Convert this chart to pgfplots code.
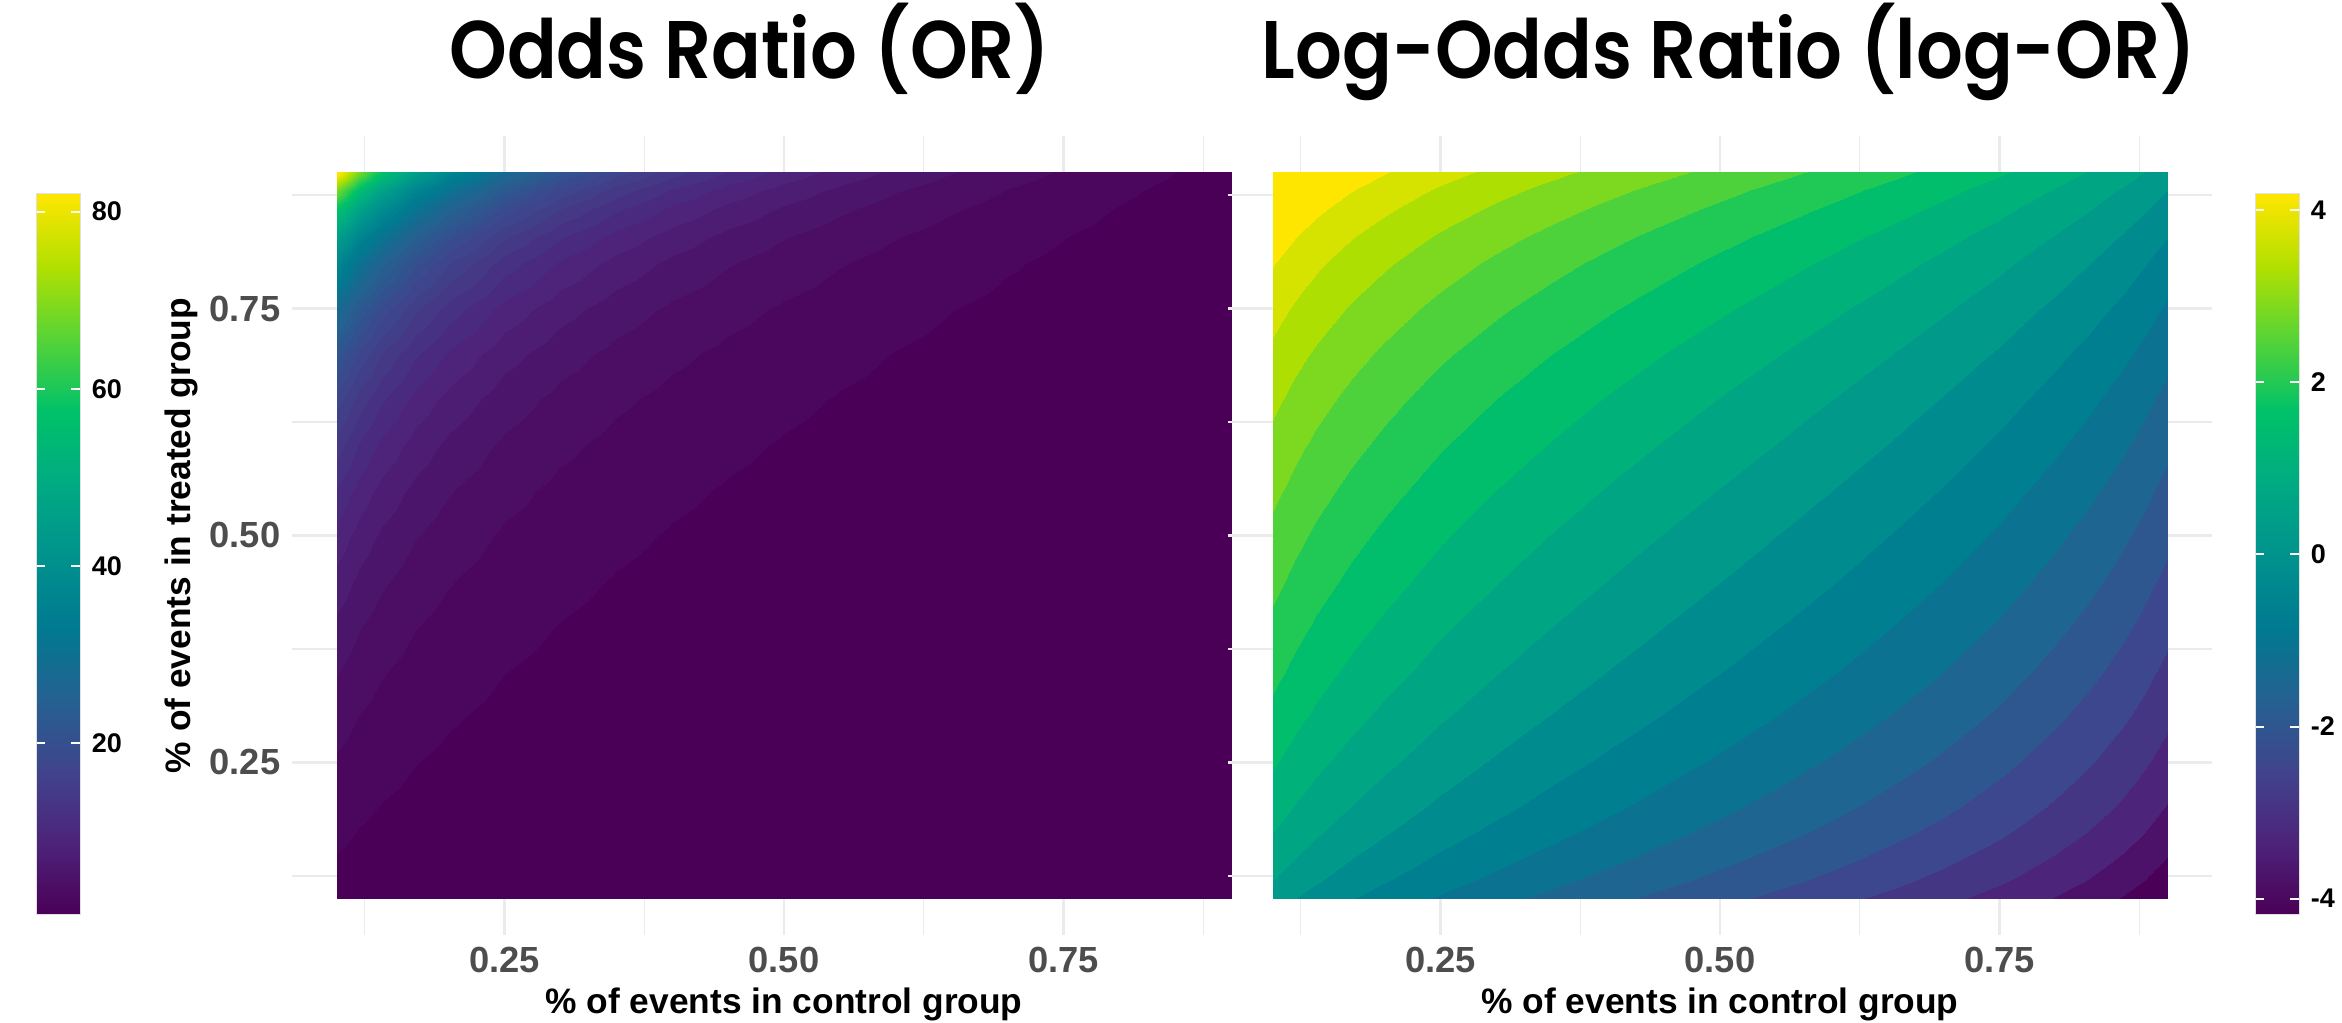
\documentclass[border=0pt]{standalone}
\usepackage{pgfplots}
\pgfplotsset{compat=1.18}
\usepackage{pgfplotstable}
\usepackage{graphicx}
\usepackage{fontspec}
\setmainfont{Liberation Sans}
\newfontfamily\titlefont{Poppins SemiBold}[FakeStretch=0.9]
\definecolor{ticklab}{RGB}{77,77,77}
\definecolor{gridc}{RGB}{235,235,235}
\pgfplotsset{
  colormap={vp}{rgb255=(75,0,87) rgb255=(77,35,122) rgb255=(64,68,140) rgb255=(36,97,145) rgb255=(0,122,145) rgb255=(0,147,141) rgb255=(0,171,130) rgb255=(0,194,104) rgb255=(87,212,54) rgb255=(178,224,0) rgb255=(255,230,0)},
  colormap={Xor}{[1pt] rgb255(0pt)=(75,0,87) rgb255(49pt)=(77,35,122) rgb255(98pt)=(64,68,140) rgb255(147pt)=(36,97,145) rgb255(196pt)=(0,122,145) rgb255(245pt)=(0,147,141) rgb255(294pt)=(0,171,130) rgb255(343pt)=(0,194,104) rgb255(392pt)=(87,212,54) rgb255(441pt)=(178,224,0) rgb255(490pt)=(255,230,0) rgb255(500pt)=(255,230,0)},
  colormap={ORcm}{samples of colormap=(51 of Xor)},
  colormap={Xlor}{[1pt] rgb255(0pt)=(75,0,87) rgb255(19pt)=(77,35,122) rgb255(38pt)=(64,68,140) rgb255(57pt)=(36,97,145) rgb255(76pt)=(0,122,145) rgb255(95pt)=(0,147,141) rgb255(114pt)=(0,171,130) rgb255(133pt)=(0,194,104) rgb255(152pt)=(87,212,54) rgb255(171pt)=(178,224,0) rgb255(190pt)=(255,230,0) rgb255(200pt)=(255,230,0)},
  colormap={LORcm}{samples of colormap=(21 of Xlor)},
}
\pgfplotstableread{
x y lor or
0.10 0.10 0 1
0.12 0.10 -0.205 0.8148
0.14 0.10 -0.382 0.6825
0.17 0.10 -0.612 0.5425
0.20 0.10 -0.811 0.4444
0.25 0.10 -1.099 0.3333
0.30 0.10 -1.350 0.2593
0.35 0.10 -1.578 0.2063
0.40 0.10 -1.792 0.1667
0.45 0.10 -1.997 0.1358
0.50 0.10 -2.197 0.1111
0.55 0.10 -2.398 0.0909
0.60 0.10 -2.603 0.0741
0.65 0.10 -2.816 0.0598
0.70 0.10 -3.045 0.0476
0.75 0.10 -3.296 0.0370
0.80 0.10 -3.584 0.0278
0.83 0.10 -3.783 0.0228
0.86 0.10 -4.013 0.0181
0.88 0.10 -4.190 0.0152
0.90 0.10 -4.394 0.0123
0.10 0.12 0.205 1.227
0.12 0.12 0 1
0.14 0.12 -0.177 0.8377
0.17 0.12 -0.407 0.6658
0.20 0.12 -0.606 0.5455
0.25 0.12 -0.894 0.4091
0.30 0.12 -1.145 0.3182
0.35 0.12 -1.373 0.2532
0.40 0.12 -1.587 0.2045
0.45 0.12 -1.792 0.1667
0.50 0.12 -1.992 0.1364
0.55 0.12 -2.193 0.1116
0.60 0.12 -2.398 0.0909
0.65 0.12 -2.611 0.0734
0.70 0.12 -2.840 0.0584
0.75 0.12 -3.091 0.0455
0.80 0.12 -3.379 0.0341
0.83 0.12 -3.578 0.0279
0.86 0.12 -3.808 0.0222
0.88 0.12 -3.985 0.0186
0.90 0.12 -4.190 0.0152
0.10 0.14 0.382 1.465
0.12 0.14 0.177 1.194
0.14 0.14 0 1
0.17 0.14 -0.230 0.7948
0.20 0.14 -0.429 0.6512
0.25 0.14 -0.717 0.4884
0.30 0.14 -0.968 0.3798
0.35 0.14 -1.196 0.3023
0.40 0.14 -1.410 0.2442
0.45 0.14 -1.615 0.1990
0.50 0.14 -1.815 0.1628
0.55 0.14 -2.016 0.1332
0.60 0.14 -2.221 0.1085
0.65 0.14 -2.434 0.0877
0.70 0.14 -2.663 0.0698
0.75 0.14 -2.914 0.0543
0.80 0.14 -3.202 0.0407
0.83 0.14 -3.401 0.0333
0.86 0.14 -3.631 0.0265
0.88 0.14 -3.808 0.0222
0.90 0.14 -4.013 0.0181
0.10 0.17 0.612 1.843
0.12 0.17 0.407 1.502
0.14 0.17 0.230 1.258
0.17 0.17 0 1
0.20 0.17 -0.199 0.8193
0.25 0.17 -0.487 0.6145
0.30 0.17 -0.738 0.4779
0.35 0.17 -0.967 0.3804
0.40 0.17 -1.180 0.3072
0.45 0.17 -1.385 0.2503
0.50 0.17 -1.586 0.2048
0.55 0.17 -1.786 0.1676
0.60 0.17 -1.991 0.1366
0.65 0.17 -2.205 0.1103
0.70 0.17 -2.433 0.0878
0.75 0.17 -2.684 0.0683
0.80 0.17 -2.972 0.0512
0.83 0.17 -3.171 0.0420
0.86 0.17 -3.401 0.0333
0.88 0.17 -3.578 0.0279
0.90 0.17 -3.783 0.0228
0.10 0.20 0.811 2.25
0.12 0.20 0.606 1.833
0.14 0.20 0.429 1.536
0.17 0.20 0.199 1.221
0.20 0.20 0 1
0.25 0.20 -0.288 0.75
0.30 0.20 -0.539 0.5833
0.35 0.20 -0.767 0.4643
0.40 0.20 -0.981 0.375
0.45 0.20 -1.186 0.3056
0.50 0.20 -1.386 0.25
0.55 0.20 -1.587 0.2045
0.60 0.20 -1.792 0.1667
0.65 0.20 -2.005 0.1346
0.70 0.20 -2.234 0.1071
0.75 0.20 -2.485 0.0833
0.80 0.20 -2.773 0.0625
0.83 0.20 -2.972 0.0512
0.86 0.20 -3.202 0.0407
0.88 0.20 -3.379 0.0341
0.90 0.20 -3.584 0.0278
0.10 0.25 1.099 3
0.12 0.25 0.894 2.444
0.14 0.25 0.717 2.048
0.17 0.25 0.487 1.627
0.20 0.25 0.288 1.333
0.25 0.25 0 1
0.30 0.25 -0.251 0.7778
0.35 0.25 -0.480 0.6190
0.40 0.25 -0.693 0.5
0.45 0.25 -0.898 0.4074
0.50 0.25 -1.099 0.3333
0.55 0.25 -1.299 0.2727
0.60 0.25 -1.504 0.2222
0.65 0.25 -1.718 0.1795
0.70 0.25 -1.946 0.1429
0.75 0.25 -2.197 0.1111
0.80 0.25 -2.485 0.0833
0.83 0.25 -2.684 0.0683
0.86 0.25 -2.914 0.0543
0.88 0.25 -3.091 0.0455
0.90 0.25 -3.296 0.0370
0.10 0.30 1.350 3.857
0.12 0.30 1.145 3.143
0.14 0.30 0.968 2.633
0.17 0.30 0.738 2.092
0.20 0.30 0.539 1.714
0.25 0.30 0.251 1.286
0.30 0.30 0 1
0.35 0.30 -0.228 0.7959
0.40 0.30 -0.442 0.6429
0.45 0.30 -0.647 0.5238
0.50 0.30 -0.847 0.4286
0.55 0.30 -1.048 0.3506
0.60 0.30 -1.253 0.2857
0.65 0.30 -1.466 0.2308
0.70 0.30 -1.695 0.1837
0.75 0.30 -1.946 0.1429
0.80 0.30 -2.234 0.1071
0.83 0.30 -2.433 0.0878
0.86 0.30 -2.663 0.0698
0.88 0.30 -2.840 0.0584
0.90 0.30 -3.045 0.0476
0.10 0.35 1.578 4.846
0.12 0.35 1.373 3.949
0.14 0.35 1.196 3.308
0.17 0.35 0.967 2.629
0.20 0.35 0.767 2.154
0.25 0.35 0.480 1.615
0.30 0.35 0.228 1.256
0.35 0.35 0 1
0.40 0.35 -0.214 0.8077
0.45 0.35 -0.418 0.6581
0.50 0.35 -0.619 0.5385
0.55 0.35 -0.820 0.4406
0.60 0.35 -1.025 0.3590
0.65 0.35 -1.238 0.2899
0.70 0.35 -1.466 0.2308
0.75 0.35 -1.718 0.1795
0.80 0.35 -2.005 0.1346
0.83 0.35 -2.205 0.1103
0.86 0.35 -2.434 0.0877
0.88 0.35 -2.611 0.0734
0.90 0.35 -2.816 0.0598
0.10 0.40 1.792 6
0.12 0.40 1.587 4.889
0.14 0.40 1.410 4.095
0.17 0.40 1.180 3.255
0.20 0.40 0.981 2.667
0.25 0.40 0.693 2
0.30 0.40 0.442 1.556
0.35 0.40 0.214 1.238
0.40 0.40 0 1
0.45 0.40 -0.205 0.8148
0.50 0.40 -0.405 0.6667
0.55 0.40 -0.606 0.5455
0.60 0.40 -0.811 0.4444
0.65 0.40 -1.025 0.3590
0.70 0.40 -1.253 0.2857
0.75 0.40 -1.504 0.2222
0.80 0.40 -1.792 0.1667
0.83 0.40 -1.991 0.1366
0.86 0.40 -2.221 0.1085
0.88 0.40 -2.398 0.0909
0.90 0.40 -2.603 0.0741
0.10 0.45 1.997 7.364
0.12 0.45 1.792 6
0.14 0.45 1.615 5.026
0.17 0.45 1.385 3.995
0.20 0.45 1.186 3.273
0.25 0.45 0.898 2.455
0.30 0.45 0.647 1.909
0.35 0.45 0.418 1.519
0.40 0.45 0.205 1.227
0.45 0.45 0 1
0.50 0.45 -0.201 0.8182
0.55 0.45 -0.401 0.6694
0.60 0.45 -0.606 0.5455
0.65 0.45 -0.820 0.4406
0.70 0.45 -1.048 0.3506
0.75 0.45 -1.299 0.2727
0.80 0.45 -1.587 0.2045
0.83 0.45 -1.786 0.1676
0.86 0.45 -2.016 0.1332
0.88 0.45 -2.193 0.1116
0.90 0.45 -2.398 0.0909
0.10 0.50 2.197 9
0.12 0.50 1.992 7.333
0.14 0.50 1.815 6.143
0.17 0.50 1.586 4.882
0.20 0.50 1.386 4
0.25 0.50 1.099 3
0.30 0.50 0.847 2.333
0.35 0.50 0.619 1.857
0.40 0.50 0.405 1.5
0.45 0.50 0.201 1.222
0.50 0.50 0 1
0.55 0.50 -0.201 0.8182
0.60 0.50 -0.405 0.6667
0.65 0.50 -0.619 0.5385
0.70 0.50 -0.847 0.4286
0.75 0.50 -1.099 0.3333
0.80 0.50 -1.386 0.25
0.83 0.50 -1.586 0.2048
0.86 0.50 -1.815 0.1628
0.88 0.50 -1.992 0.1364
0.90 0.50 -2.197 0.1111
0.10 0.55 2.398 11
0.12 0.55 2.193 8.963
0.14 0.55 2.016 7.508
0.17 0.55 1.786 5.967
0.20 0.55 1.587 4.889
0.25 0.55 1.299 3.667
0.30 0.55 1.048 2.852
0.35 0.55 0.820 2.270
0.40 0.55 0.606 1.833
0.45 0.55 0.401 1.494
0.50 0.55 0.201 1.222
0.55 0.55 0 1
0.60 0.55 -0.205 0.8148
0.65 0.55 -0.418 0.6581
0.70 0.55 -0.647 0.5238
0.75 0.55 -0.898 0.4074
0.80 0.55 -1.186 0.3056
0.83 0.55 -1.385 0.2503
0.86 0.55 -1.615 0.1990
0.88 0.55 -1.792 0.1667
0.90 0.55 -1.997 0.1358
0.10 0.60 2.603 13.5
0.12 0.60 2.398 11
0.14 0.60 2.221 9.214
0.17 0.60 1.991 7.324
0.20 0.60 1.792 6
0.25 0.60 1.504 4.5
0.30 0.60 1.253 3.5
0.35 0.60 1.025 2.786
0.40 0.60 0.811 2.25
0.45 0.60 0.606 1.833
0.50 0.60 0.405 1.5
0.55 0.60 0.205 1.227
0.60 0.60 0 1
0.65 0.60 -0.214 0.8077
0.70 0.60 -0.442 0.6429
0.75 0.60 -0.693 0.5
0.80 0.60 -0.981 0.375
0.83 0.60 -1.180 0.3072
0.86 0.60 -1.410 0.2442
0.88 0.60 -1.587 0.2045
0.90 0.60 -1.792 0.1667
0.10 0.65 2.816 16.71
0.12 0.65 2.611 13.62
0.14 0.65 2.434 11.41
0.17 0.65 2.205 9.067
0.20 0.65 2.005 7.429
0.25 0.65 1.718 5.571
0.30 0.65 1.466 4.333
0.35 0.65 1.238 3.449
0.40 0.65 1.025 2.786
0.45 0.65 0.820 2.270
0.50 0.65 0.619 1.857
0.55 0.65 0.418 1.519
0.60 0.65 0.214 1.238
0.65 0.65 0 1
0.70 0.65 -0.228 0.7959
0.75 0.65 -0.480 0.6190
0.80 0.65 -0.767 0.4643
0.83 0.65 -0.967 0.3804
0.86 0.65 -1.196 0.3023
0.88 0.65 -1.373 0.2532
0.90 0.65 -1.578 0.2063
0.10 0.70 3.045 21
0.12 0.70 2.840 17.11
0.14 0.70 2.663 14.33
0.17 0.70 2.433 11.39
0.20 0.70 2.234 9.333
0.25 0.70 1.946 7
0.30 0.70 1.695 5.444
0.35 0.70 1.466 4.333
0.40 0.70 1.253 3.5
0.45 0.70 1.048 2.852
0.50 0.70 0.847 2.333
0.55 0.70 0.647 1.909
0.60 0.70 0.442 1.556
0.65 0.70 0.228 1.256
0.70 0.70 0 1
0.75 0.70 -0.251 0.7778
0.80 0.70 -0.539 0.5833
0.83 0.70 -0.738 0.4779
0.86 0.70 -0.968 0.3798
0.88 0.70 -1.145 0.3182
0.90 0.70 -1.350 0.2593
0.10 0.75 3.296 27
0.12 0.75 3.091 22
0.14 0.75 2.914 18.43
0.17 0.75 2.684 14.65
0.20 0.75 2.485 12
0.25 0.75 2.197 9
0.30 0.75 1.946 7
0.35 0.75 1.718 5.571
0.40 0.75 1.504 4.5
0.45 0.75 1.299 3.667
0.50 0.75 1.099 3
0.55 0.75 0.898 2.455
0.60 0.75 0.693 2
0.65 0.75 0.480 1.615
0.70 0.75 0.251 1.286
0.75 0.75 0 1
0.80 0.75 -0.288 0.75
0.83 0.75 -0.487 0.6145
0.86 0.75 -0.717 0.4884
0.88 0.75 -0.894 0.4091
0.90 0.75 -1.099 0.3333
0.10 0.80 3.584 36
0.12 0.80 3.379 29.33
0.14 0.80 3.202 24.57
0.17 0.80 2.972 19.53
0.20 0.80 2.773 16
0.25 0.80 2.485 12
0.30 0.80 2.234 9.333
0.35 0.80 2.005 7.429
0.40 0.80 1.792 6
0.45 0.80 1.587 4.889
0.50 0.80 1.386 4
0.55 0.80 1.186 3.273
0.60 0.80 0.981 2.667
0.65 0.80 0.767 2.154
0.70 0.80 0.539 1.714
0.75 0.80 0.288 1.333
0.80 0.80 0 1
0.83 0.80 -0.199 0.8193
0.86 0.80 -0.429 0.6512
0.88 0.80 -0.606 0.5455
0.90 0.80 -0.811 0.4444
0.10 0.83 3.783 43.94
0.12 0.83 3.578 35.80
0.14 0.83 3.401 29.99
0.17 0.83 3.171 23.84
0.20 0.83 2.972 19.53
0.25 0.83 2.684 14.65
0.30 0.83 2.433 11.39
0.35 0.83 2.205 9.067
0.40 0.83 1.991 7.324
0.45 0.83 1.786 5.967
0.50 0.83 1.586 4.882
0.55 0.83 1.385 3.995
0.60 0.83 1.180 3.255
0.65 0.83 0.967 2.629
0.70 0.83 0.738 2.092
0.75 0.83 0.487 1.627
0.80 0.83 0.199 1.221
0.83 0.83 0 1
0.86 0.83 -0.230 0.7948
0.88 0.83 -0.407 0.6658
0.90 0.83 -0.612 0.5425
0.10 0.86 4.013 55.29
0.12 0.86 3.808 45.05
0.14 0.86 3.631 37.73
0.17 0.86 3.401 29.99
0.20 0.86 3.202 24.57
0.25 0.86 2.914 18.43
0.30 0.86 2.663 14.33
0.35 0.86 2.434 11.41
0.40 0.86 2.221 9.214
0.45 0.86 2.016 7.508
0.50 0.86 1.815 6.143
0.55 0.86 1.615 5.026
0.60 0.86 1.410 4.095
0.65 0.86 1.196 3.308
0.70 0.86 0.968 2.633
0.75 0.86 0.717 2.048
0.80 0.86 0.429 1.536
0.83 0.86 0.230 1.258
0.86 0.86 0 1
0.88 0.86 -0.177 0.8377
0.90 0.86 -0.382 0.6825
0.10 0.88 4.190 66
0.12 0.88 3.985 53.78
0.14 0.88 3.808 45.05
0.17 0.88 3.578 35.80
0.20 0.88 3.379 29.33
0.25 0.88 3.091 22
0.30 0.88 2.840 17.11
0.35 0.88 2.611 13.62
0.40 0.88 2.398 11
0.45 0.88 2.193 8.963
0.50 0.88 1.992 7.333
0.55 0.88 1.792 6
0.60 0.88 1.587 4.889
0.65 0.88 1.373 3.949
0.70 0.88 1.145 3.143
0.75 0.88 0.894 2.444
0.80 0.88 0.606 1.833
0.83 0.88 0.407 1.502
0.86 0.88 0.177 1.194
0.88 0.88 0 1
0.90 0.88 -0.205 0.8148
0.10 0.90 4.394 81
0.12 0.90 4.190 66
0.14 0.90 4.013 55.29
0.17 0.90 3.783 43.94
0.20 0.90 3.584 36
0.25 0.90 3.296 27
0.30 0.90 3.045 21
0.35 0.90 2.816 16.71
0.40 0.90 2.603 13.5
0.45 0.90 2.398 11
0.50 0.90 2.197 9
0.55 0.90 1.997 7.364
0.60 0.90 1.792 6
0.65 0.90 1.578 4.846
0.70 0.90 1.350 3.857
0.75 0.90 1.099 3
0.80 0.90 0.811 2.25
0.83 0.90 0.612 1.843
0.86 0.90 0.382 1.465
0.88 0.90 0.205 1.227
0.90 0.90 0 1
}\gridtab
\pgfplotsset{
  panel/.style={
    anchor=south west, scale only axis, width=295.2pt, height=239.7pt,
    xmin=0.06, xmax=0.94, ymin=0.06, ymax=0.94,
    xtick={0.25,0.5,0.75}, ytick={0.25,0.5,0.75},
    minor xtick={0.125,0.375,0.625,0.875}, minor ytick={0.125,0.375,0.625,0.875},
    grid=both,
    major grid style={draw=gridc, line width=0.7pt},
    minor grid style={draw=gridc, line width=0.4pt},
    axis line style={draw=none},
    major tick length=0pt, minor tick length=0pt,
    ticklabel style={font=\fontsize{10.9}{12}\selectfont\bfseries, text=ticklab},
    xticklabels={0.25,0.50,0.75},
    xlabel={\% of events in control group},
    xlabel style={font=\fontsize{10.6}{12}\selectfont\bfseries, text=black},
    xlabel shift=-2.2pt,
    colormap access=piecewise constant,
  },
  cbarholder/.style={
    anchor=south west, scale only axis, width=13.2pt, height=216.3pt,
    hide axis, xmin=0, xmax=1, ymin=0, ymax=1,
    colormap name=vp, colorbar,
  },
  cbarstyle/.style={
    at={(parent axis.south west)}, anchor=south west, xshift=-0.3cm,
    scale only axis, width=13.2pt, height=216.3pt,
    yticklabel pos=right, ytick pos=both,
    tick align=inside, major tick length=2.7pt,
    tick style={draw=white, line width=0.6pt},
    axis on top,
    axis line style={draw=black!12, line width=0.3pt},
    yticklabel style={font=\fontsize{8.1}{10}\selectfont\bfseries, text=black},
  },
}
\begin{document}
\begin{tikzpicture}
\useasboundingbox (0,0) rectangle (702.6pt,306.9pt);
% Left panel: odds ratio
\begin{axis}[panel, at={(87.6pt,26.4pt)},
  yticklabels={0.25,0.50,0.75},
  ylabel={\% of events in treated group},
  ylabel style={font=\fontsize{10.6}{12}\selectfont\bfseries, text=black},
  ylabel shift=-3.5pt,
  colormap name=ORcm, point meta min=0, point meta max=81]
\addplot[surf, shader=interp, mesh/rows=21, mesh/cols=21, point meta=\thisrow{or}] table[x=x, y=y] {\gridtab};
\end{axis}
% Right panel: log odds ratio
\begin{axis}[panel, at={(368.4pt,26.4pt)},
  yticklabels={,,},
  colormap name=LORcm, point meta min=-4.3944, point meta max=4.3944]
\addplot[surf, shader=interp, mesh/rows=21, mesh/cols=21, point meta=\thisrow{lor}] table[x=x, y=y] {\gridtab};
\end{axis}
% Colour bars
\begin{axis}[cbarholder, at={(10.8pt,32.4pt)},
  point meta min=0.6, point meta max=82,
  colorbar style={cbarstyle, ytick={20,40,60,80}, yticklabels={20,40,60,80}}]
\end{axis}
\begin{axis}[cbarholder, at={(676.5pt,32.4pt)},
  point meta min=-4.19, point meta max=4.19,
  colorbar style={cbarstyle, ytick={-4,-2,0,2,4}, yticklabels={-4,-2,0,2,4}}]
\end{axis}
% Titles
\node[anchor=base, font=\titlefont\fontsize{24.5}{28}\selectfont] at (225pt,283.2pt) {Odds Ratio (OR)};
\node[anchor=base, font=\titlefont\fontsize{24.5}{28}\selectfont] at (518.7pt,283.2pt) {Log-Odds Ratio (log-OR)};
\end{tikzpicture}
\end{document}
